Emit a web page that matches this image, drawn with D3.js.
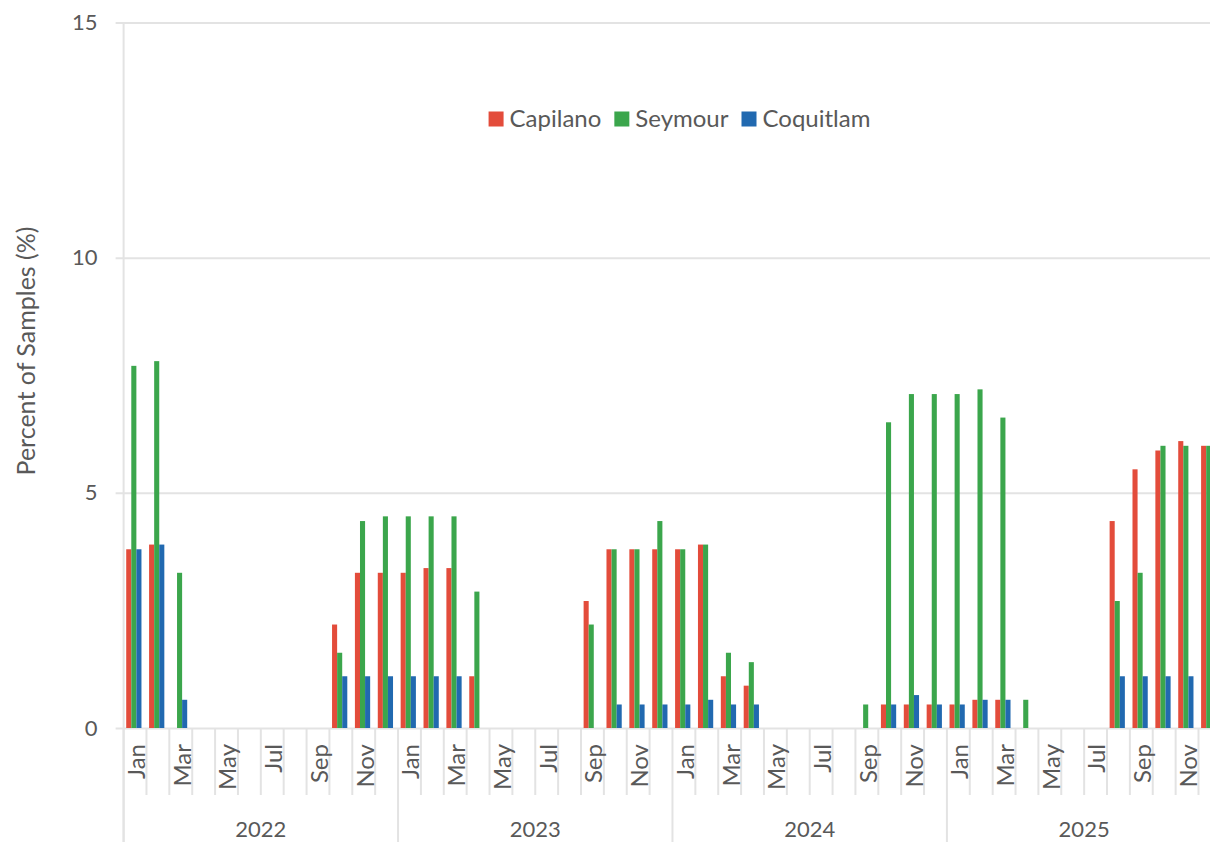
<!DOCTYPE html>
<html>
<head>
<meta charset="utf-8">
<script src="https://cdn.jsdelivr.net/npm/d3@7"></script>
<style>
  body { margin: 0; background: #fff; }
  svg { display: block; }
  text { font-family: Lato, "Open Sans", sans-serif; fill: #595959; }
</style>
</head>
<body>
<svg id="chart" width="1210" height="842"></svg>
<script>
// Monthly share of samples per reservoir, Jan 2022 – Dec 2025
const years = ["2022", "2023", "2024", "2025"];
const monthNames = ["Jan", "Feb", "Mar", "Apr", "May", "Jun", "Jul", "Aug", "Sep", "Oct", "Nov", "Dec"];
const seriesNames = ["Capilano", "Seymour", "Coquitlam"];
const seriesColors = ["#E34C3B", "#3BA64C", "#2169B0"];

const capilano = [
  3.8, 3.9, 0, 0, 0, 0, 0, 0, 0, 2.2, 3.3, 3.3,
  3.3, 3.4, 3.4, 1.1, 0, 0, 0, 0, 2.7, 3.8, 3.8, 3.8,
  3.8, 3.9, 1.1, 0.9, 0, 0, 0, 0, 0, 0.5, 0.5, 0.5,
  0.5, 0.6, 0.6, 0, 0, 0, 0, 4.4, 5.5, 5.9, 6.1, 6.0
];
const seymour = [
  7.7, 7.8, 3.3, 0, 0, 0, 0, 0, 0, 1.6, 4.4, 4.5,
  4.5, 4.5, 4.5, 2.9, 0, 0, 0, 0, 2.2, 3.8, 3.8, 4.4,
  3.8, 3.9, 1.6, 1.4, 0, 0, 0, 0, 0.5, 6.5, 7.1, 7.1,
  7.1, 7.2, 6.6, 0.6, 0, 0, 0, 2.7, 3.3, 6.0, 6.0, 6.0
];
const coquitlam = [
  3.8, 3.9, 0.6, 0, 0, 0, 0, 0, 0, 1.1, 1.1, 1.1,
  1.1, 1.1, 1.1, 0, 0, 0, 0, 0, 0, 0.5, 0.5, 0.5,
  0.5, 0.6, 0.5, 0.5, 0, 0, 0, 0, 0, 0.5, 0.7, 0.5,
  0.5, 0.6, 0.6, 0, 0, 0, 0, 1.1, 1.1, 1.1, 1.1, 1.1
];
const yTicks = [0, 5, 10, 15];

// Build month keys and rows
const months = [];
years.forEach(yr => monthNames.forEach(m => months.push({ key: yr + "-" + m, year: yr, month: m })));
const seriesValues = [capilano, seymour, coquitlam];
const rows = months.map((m, i) => ({
  key: m.key,
  values: seriesNames.map((s, j) => ({ series: s, value: seriesValues[j][i], color: seriesColors[j] }))
}));

const svg = d3.select("#chart");
const plotLeft = 123.6, plotTop = 22.5, plotBottom = 728;
const step = 22.87;
const plotRight = plotLeft + step * months.length;

const x0 = d3.scaleBand().domain(months.map(m => m.key)).range([plotLeft, plotRight]).padding(0);
const x1 = d3.scaleBand().domain(seriesNames).range([-1.2, x0.bandwidth() - 1.2]).paddingInner(0).paddingOuter(0.75);
const y = d3.scaleLinear().domain([0, 15]).range([plotBottom, plotTop]);

// Gridlines and y tick labels
const yAxis = d3.axisLeft(y).tickValues(yTicks).tickSizeInner(-(plotRight - plotLeft + 8)).tickSizeOuter(0).tickPadding(18);
const gy = svg.append("g").attr("transform", `translate(${plotLeft - 8},0)`).call(yAxis);
gy.select(".domain").remove();
gy.selectAll(".tick line").attr("stroke", "#e3e3e3").attr("stroke-width", 2);
gy.selectAll(".tick text").attr("fill", "#595959").style("font-size", "22px").attr("font-family", "Lato, sans-serif");

// Vertical axis line
svg.append("line")
  .attr("x1", plotLeft).attr("x2", plotLeft).attr("y1", plotTop).attr("y2", 842)
  .attr("stroke", "#e3e3e3").attr("stroke-width", 2);

// Bars
const groups = svg.append("g").selectAll("g").data(rows).join("g")
  .attr("transform", d => `translate(${x0(d.key)},0)`);
groups.selectAll("rect").data(d => d.values.filter(v => v.value > 0)).join("rect")
  .attr("x", v => x1(v.series))
  .attr("width", x1.bandwidth())
  .attr("y", v => y(v.value))
  .attr("height", v => y(0) - y(v.value))
  .attr("fill", v => v.color);

// Category separators: short between months, long at year boundaries
const boundaries = months.map((m, i) => ({ x: x0(m.key), yearStart: i % 12 === 0 }));
boundaries.push({ x: plotRight, yearStart: true });
svg.append("g").selectAll("line").data(boundaries.filter(b => !b.yearStart)).join("line")
  .attr("x1", b => b.x).attr("x2", b => b.x)
  .attr("y1", plotBottom).attr("y2", 795)
  .attr("stroke", "#e3e3e3").attr("stroke-width", 2);
svg.append("g").selectAll("line").data(boundaries.filter(b => b.yearStart)).join("line")
  .attr("x1", b => b.x).attr("x2", b => b.x)
  .attr("y1", plotBottom).attr("y2", 842)
  .attr("stroke", "#e3e3e3").attr("stroke-width", 2);

// Month labels (every other month), rotated
svg.append("g").selectAll("text")
  .data(months.filter((m, i) => i % 2 === 0))
  .join("text")
  .attr("transform", m => `translate(${x0(m.key) + x0.bandwidth() / 2 + 1.5},744) rotate(-90)`)
  .attr("text-anchor", "end")
  .attr("dy", "0.35em")
  .style("font-size", "24px")
  .text(m => m.month);

// Year labels
svg.append("g").selectAll("text").data(years).join("text")
  .attr("x", yr => (x0(yr + "-Jan") + x0(yr + "-Dec") + x0.bandwidth()) / 2)
  .attr("y", 837)
  .attr("text-anchor", "middle")
  .style("font-size", "22px")
  .text(yr => yr);

// Y axis title
svg.append("text")
  .attr("transform", "translate(26,351) rotate(-90)")
  .attr("text-anchor", "middle")
  .attr("dy", "0.35em")
  .style("font-size", "25px")
  .text("Percent of Samples (%)");

// Legend
const legend = svg.append("g");
const items = legend.selectAll("g").data(seriesNames.map((s, j) => ({ name: s, color: seriesColors[j] }))).join("g");
items.append("rect").attr("width", 15).attr("height", 15).attr("y", -7.5).attr("fill", d => d.color);
items.append("text").attr("x", 21).attr("dy", "0.35em").style("font-size", "24px").text(d => d.name);
const widths = [];
items.each(function () {
  widths.push(21 + this.querySelector("text").getComputedTextLength());
});
const gap = 13;
const total = d3.sum(widths) + gap * (widths.length - 1);
const startX = 679.5 - total / 2;
let cursor = 0;
items.attr("transform", (d, i) => {
  const tx = startX + cursor;
  cursor += widths[i] + gap;
  return `translate(${tx},119)`;
});
</script>
</body>
</html>
